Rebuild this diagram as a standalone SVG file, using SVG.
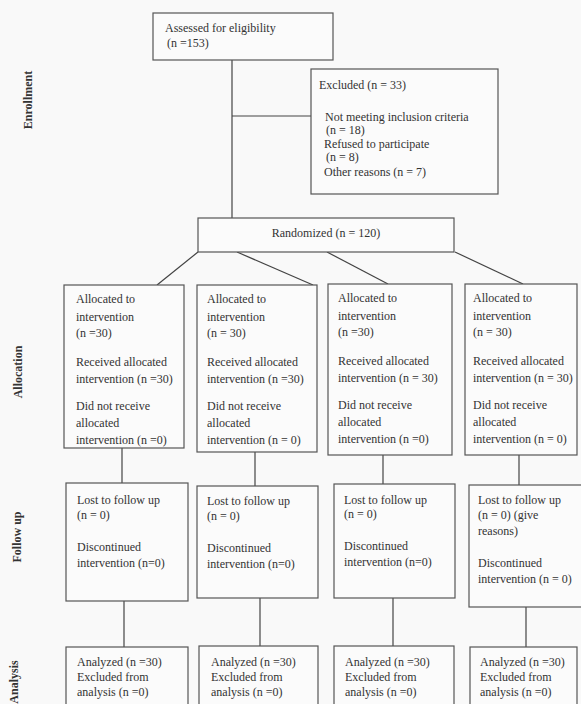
<svg xmlns="http://www.w3.org/2000/svg" width="581" height="704" viewBox="0 0 581 704">
<style>
.box{fill:#fbfbfb;stroke:#555;stroke-width:1.2}
.t{font-family:"Liberation Serif","Times New Roman",serif;font-size:12px;fill:#333}
.s{font-family:"Liberation Serif","Times New Roman",serif;font-size:12px;font-weight:bold;fill:#333}
.c{stroke:#444;stroke-width:1.2;fill:none}
</style>
<rect width="581" height="704" fill="#f9f9f9"/>
<g id="phase-labels">
<text class="s" transform="translate(32,100) rotate(-90)" text-anchor="middle">Enrollment</text>
<text class="s" transform="translate(22,372) rotate(-90)" text-anchor="middle">Allocation</text>
<text class="s" transform="translate(21,537) rotate(-90)" text-anchor="middle">Follow up</text>
<text class="s" transform="translate(18,682) rotate(-90)" text-anchor="middle">Analysis</text>
</g>
<g id="connectors">
<line class="c" x1="232" y1="60" x2="232" y2="230"/>
<line class="c" x1="232" y1="116" x2="311" y2="116"/>
<line class="c" x1="198" y1="252" x2="157" y2="285"/>
<line class="c" x1="237" y1="252" x2="313" y2="285"/>
<line class="c" x1="327" y1="252" x2="388" y2="284"/>
<line class="c" x1="455" y1="252" x2="523" y2="284"/>
<line class="c" x1="122" y1="448" x2="122" y2="483"/>
<line class="c" x1="255" y1="452" x2="255" y2="486"/>
<line class="c" x1="383" y1="455" x2="383" y2="484"/>
<line class="c" x1="519" y1="455" x2="519" y2="485"/>
<line class="c" x1="124" y1="601" x2="124" y2="647"/>
<line class="c" x1="260" y1="598" x2="260" y2="646"/>
<line class="c" x1="393" y1="598" x2="393" y2="646"/>
<line class="c" x1="526" y1="607" x2="526" y2="647"/>
</g>
<g id="assessed">
<rect class="box" x="153" y="13" width="180" height="47"/>
<text class="t" x="165" y="32">Assessed for eligibility</text>
<text class="t" x="167" y="47">(n =153)</text>
</g>
<g id="excluded">
<rect class="box" x="311" y="69" width="187" height="125"/>
<text class="t" x="319" y="89">Excluded (n = 33)</text>
<text class="t" x="325" y="121">Not meeting inclusion criteria</text>
<text class="t" x="326" y="134">(n = 18)</text>
<text class="t" x="324" y="148">Refused to participate</text>
<text class="t" x="326" y="161">(n = 8)</text>
<text class="t" x="324" y="176">Other reasons (n = 7)</text>
</g>
<g id="randomized">
<rect class="box" x="198" y="218" width="256" height="34"/>
<text class="t" x="326" y="237" text-anchor="middle">Randomized (n = 120)</text>
</g>
<g id="alloc1">
<rect class="box" x="64" y="285" width="120" height="163"/>
<text class="t" x="76" y="303">Allocated to</text>
<text class="t" x="76" y="321">intervention</text>
<text class="t" x="76" y="337">(n =30)</text>
<text class="t" x="76" y="366">Received allocated</text>
<text class="t" x="76" y="383">intervention (n =30)</text>
<text class="t" x="76" y="410">Did not receive</text>
<text class="t" x="76" y="427">allocated</text>
<text class="t" x="76" y="444">intervention (n =0)</text>
</g>
<g id="alloc2">
<rect class="box" x="197" y="285" width="120" height="167"/>
<text class="t" x="207" y="303">Allocated to</text>
<text class="t" x="207" y="321">intervention</text>
<text class="t" x="207" y="337">(n = 30)</text>
<text class="t" x="207" y="366">Received allocated</text>
<text class="t" x="207" y="383">intervention (n =30)</text>
<text class="t" x="207" y="410">Did not receive</text>
<text class="t" x="207" y="427">allocated</text>
<text class="t" x="207" y="444">intervention (n = 0)</text>
</g>
<g id="alloc3">
<rect class="box" x="328" y="284" width="124" height="171"/>
<text class="t" x="338" y="302">Allocated to</text>
<text class="t" x="338" y="320">intervention</text>
<text class="t" x="338" y="336">(n =30)</text>
<text class="t" x="338" y="365">Received allocated</text>
<text class="t" x="338" y="382">intervention (n = 30)</text>
<text class="t" x="338" y="409">Did not receive</text>
<text class="t" x="338" y="426">allocated</text>
<text class="t" x="338" y="443">intervention (n =0)</text>
</g>
<g id="alloc4">
<rect class="box" x="465" y="284" width="112" height="171"/>
<text class="t" x="473" y="302">Allocated to</text>
<text class="t" x="473" y="320">intervention</text>
<text class="t" x="473" y="336">(n = 30)</text>
<text class="t" x="473" y="365">Received allocated</text>
<text class="t" x="473" y="382">intervention (n = 30)</text>
<text class="t" x="473" y="409">Did not receive</text>
<text class="t" x="473" y="426">allocated</text>
<text class="t" x="473" y="443">intervention (n = 0)</text>
</g>
<g id="follow1">
<rect class="box" x="66" y="483" width="122" height="118"/>
<text class="t" x="77" y="504">Lost to follow up</text>
<text class="t" x="77" y="519">(n = 0)</text>
<text class="t" x="77" y="551">Discontinued</text>
<text class="t" x="77" y="567">intervention (n=0)</text>
</g>
<g id="follow2">
<rect class="box" x="197" y="486" width="121" height="112"/>
<text class="t" x="207" y="505">Lost to follow up</text>
<text class="t" x="207" y="520">(n = 0)</text>
<text class="t" x="207" y="552">Discontinued</text>
<text class="t" x="207" y="568">intervention (n=0)</text>
</g>
<g id="follow3">
<rect class="box" x="334" y="484" width="121" height="114"/>
<text class="t" x="344" y="504">Lost to follow up</text>
<text class="t" x="344" y="518">(n = 0)</text>
<text class="t" x="344" y="550">Discontinued</text>
<text class="t" x="344" y="566">intervention (n=0)</text>
</g>
<g id="follow4">
<rect class="box" x="469" y="485" width="130" height="122"/>
<text class="t" x="478" y="504">Lost to follow up</text>
<text class="t" x="478" y="519">(n = 0) (give</text>
<text class="t" x="478" y="535">reasons)</text>
<text class="t" x="478" y="567">Discontinued</text>
<text class="t" x="478" y="583">intervention (n = 0)</text>
</g>
<g id="analysis1">
<rect class="box" x="66" y="647" width="122" height="70"/>
<text class="t" x="77" y="666">Analyzed (n =30)</text>
<text class="t" x="77" y="681">Excluded from</text>
<text class="t" x="77" y="696">analysis (n =0)</text>
</g>
<g id="analysis2">
<rect class="box" x="199" y="646" width="119" height="70"/>
<text class="t" x="211" y="666">Analyzed (n =30)</text>
<text class="t" x="211" y="681">Excluded from</text>
<text class="t" x="211" y="696">analysis (n =0)</text>
</g>
<g id="analysis3">
<rect class="box" x="334" y="646" width="120" height="70"/>
<text class="t" x="345" y="666">Analyzed (n =30)</text>
<text class="t" x="345" y="681">Excluded from</text>
<text class="t" x="345" y="696">analysis (n =0)</text>
</g>
<g id="analysis4">
<rect class="box" x="470" y="647" width="107" height="70"/>
<text class="t" x="480" y="666">Analyzed (n =30)</text>
<text class="t" x="480" y="681">Excluded from</text>
<text class="t" x="480" y="696">analysis (n =0)</text>
</g>
</svg>
